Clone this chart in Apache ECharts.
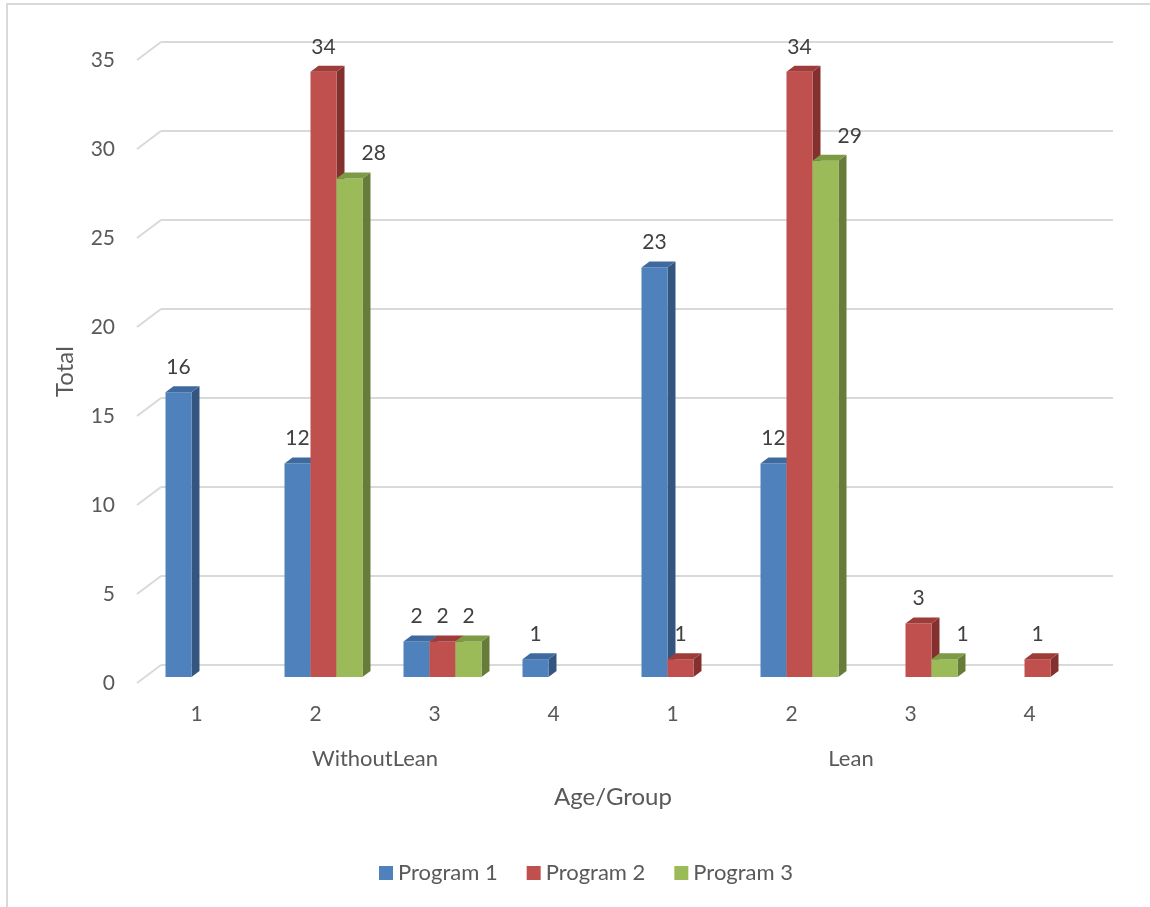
<!DOCTYPE html>
<html>
<head>
<meta charset="utf-8">
<title>Total by Age/Group</title>
<script src="https://cdn.jsdelivr.net/npm/echarts@6/dist/echarts.min.js"></script>
<style>
  html, body { margin: 0; padding: 0; background: #ffffff; }
  #chart { width: 1150px; height: 907px; }
</style>
</head>
<body>
<div id="chart"></div>
<script>
// ---- data ----
const categories = ['1', '2', '3', '4', '1', '2', '3', '4'];
const groups = ['WithoutLean', 'Lean'];
const seriesNames = ['Program 1', 'Program 2', 'Program 3'];
const program1 = [16, 12, 2, 1, 23, 12, 0, 0];
const program2 = [0, 34, 2, 0, 1, 34, 3, 1];
const program3 = [0, 28, 2, 0, 0, 29, 1, 0];
const yMin = 0, yMax = 35, yStep = 5;

// ---- look ----
const FONT = 'Lato, "Open Sans", sans-serif';
const TEXT = '#595959';
const LABEL = '#404040';
const GRID_LINE = '#d9d9d9';
const palette = [
  { front: '#4f81bd', side: '#34557f', top: '#3e6aa0' },
  { front: '#c0504d', side: '#84302e', top: '#9d3c39' },
  { front: '#9bbb59', side: '#677c39', top: '#7d9a44' }
];

// 3D layout: back wall, bar plane and front edge of the floor
const BACK = { left: 161, right: 37, top: 42, bottom: 242 };
const FLOOR_DX = 24, FLOOR_DY = 18;          // depth of the floor
const BAR_PLANE_DX = 16, BAR_PLANE_DY = 12;  // where bar fronts sit
const BAR_DX = 8, BAR_DY = 6;                // depth of each bar
const BAR_RATIO = 0.2185;                    // bar width / category band

const values = [program1, program2, program3];

function shift(g, dx, dy) {
  return { left: g.left - dx, right: g.right + dx, top: g.top + dy, bottom: g.bottom - dy };
}
const barGrid = shift(BACK, BAR_PLANE_DX, BAR_PLANE_DY);
const floorGrid = shift(BACK, FLOOR_DX, FLOOR_DY);

function barRenderer(slot) {
  const c = palette[slot];
  return function (params, api) {
    const idx = api.value(0), v = api.value(1);
    const base = api.coord([idx, 0]);
    const top = api.coord([idx, v]);
    const w = api.size([1, 0])[0] * BAR_RATIO;
    const x0 = base[0] - 1.5 * w + slot * w;
    const yb = base[1], yt = top[1];
    return {
      type: 'group',
      children: [
        { type: 'polygon', shape: { points: [[x0 + w, yt], [x0 + w + BAR_DX, yt - BAR_DY], [x0 + w + BAR_DX, yb - BAR_DY], [x0 + w, yb]] }, style: { fill: c.side } },
        { type: 'rect', shape: { x: x0, y: yt, width: w, height: yb - yt }, style: { fill: c.front } },
        { type: 'polygon', shape: { points: [[x0, yt], [x0 + BAR_DX, yt - BAR_DY], [x0 + w + BAR_DX, yt - BAR_DY], [x0 + w, yt]] }, style: { fill: c.top } }
      ]
    };
  };
}

// value labels; the last series' label steps aside when the bar to its left is taller
const labelData = [];
values.forEach((arr, s) => {
  arr.forEach((v, i) => {
    if (v > 0) {
      const prev = s > 0 ? values[s - 1][i] : 0;
      labelData.push([i, v, s, prev]);
    }
  });
});

function labelRenderer(params, api) {
  const idx = api.value(0), v = api.value(1), slot = api.value(2), prev = api.value(3);
  const base = api.coord([idx, 0]);
  const top = api.coord([idx, v]);
  const w = api.size([1, 0])[0] * BAR_RATIO;
  const x0 = base[0] - 1.5 * w + slot * w;
  const aside = slot === seriesNames.length - 1 && prev > v;
  return {
    type: 'text',
    style: {
      x: aside ? x0 + w - 1 : x0 + w / 2,
      y: top[1] - 25,
      text: String(v),
      align: aside ? 'left' : 'center',
      verticalAlign: 'middle',
      fill: LABEL,
      font: '21px ' + FONT
    }
  };
}

function wallRenderer(params, api) {
  const p = api.coord([0, api.value(1)]);
  return {
    type: 'line',
    shape: { x1: p[0] - FLOOR_DX, y1: p[1] + FLOOR_DY, x2: p[0], y2: p[1] },
    style: { stroke: GRID_LINE, lineWidth: 2 }
  };
}

const tickValues = [];
for (let t = yMin; t <= yMax; t += yStep) tickValues.push([0, t]);

const chart = echarts.init(document.getElementById('chart'), null, { renderer: 'canvas' });

chart.setOption({
  backgroundColor: '#ffffff',
  animation: false,
  textStyle: { fontFamily: FONT },
  graphic: [{
    type: 'rect',
    shape: { x: 7, y: 4, width: 1170, height: 930 },
    style: { fill: 'none', stroke: GRID_LINE, lineWidth: 2 },
    silent: true,
    z: -10
  }],
  legend: {
    data: seriesNames,
    left: 379,
    top: 862,
    padding: 0,
    icon: 'rect',
    itemWidth: 14,
    itemHeight: 14,
    itemGap: 29,
    textStyle: { color: TEXT, fontSize: 22, fontFamily: FONT }
  },
  grid: [
    Object.assign({}, BACK),
    Object.assign({}, barGrid),
    Object.assign({}, floorGrid)
  ],
  xAxis: [
    { gridIndex: 0, type: 'value', min: 0, max: 1, show: false },
    { gridIndex: 1, type: 'category', data: categories, show: false },
    {
      gridIndex: 2, type: 'category', data: categories, position: 'bottom',
      axisLine: { show: false }, axisTick: { show: false }, splitLine: { show: false },
      axisLabel: { color: TEXT, fontSize: 21, margin: 21, fontFamily: FONT },
      name: 'Age/Group', nameLocation: 'middle', nameGap: 102,
      nameTextStyle: { color: TEXT, fontSize: 24, fontFamily: FONT }
    },
    {
      gridIndex: 2, type: 'category', data: groups, position: 'bottom',
      axisLine: { show: false }, axisTick: { show: false }, splitLine: { show: false },
      axisLabel: { color: TEXT, fontSize: 22, margin: 65, fontFamily: FONT }
    }
  ],
  yAxis: [
    {
      gridIndex: 0, type: 'value', min: yMin, max: yMax, interval: yStep,
      axisLine: { show: false }, axisTick: { show: false }, axisLabel: { show: false },
      splitLine: { show: true, lineStyle: { color: GRID_LINE, width: 2 } }
    },
    { gridIndex: 1, type: 'value', min: yMin, max: yMax, interval: yStep, show: false },
    {
      gridIndex: 2, type: 'value', min: yMin, max: yMax, interval: yStep,
      axisLine: { show: false }, axisTick: { show: false }, splitLine: { show: false },
      axisLabel: { color: TEXT, fontSize: 21, margin: 22, fontFamily: FONT },
      name: 'Total', nameLocation: 'middle', nameRotate: 90, nameGap: 60,
      nameTextStyle: { color: TEXT, fontSize: 24, fontFamily: FONT }
    }
  ],
  series: [
    {
      type: 'custom', name: 'wall', xAxisIndex: 0, yAxisIndex: 0,
      renderItem: wallRenderer, data: tickValues, silent: true, z: 1
    }
  ].concat(values.map((arr, s) => ({
    type: 'custom',
    name: seriesNames[s],
    xAxisIndex: 1, yAxisIndex: 1,
    itemStyle: { color: palette[s].front },
    renderItem: barRenderer(s),
    data: arr.map((v, i) => [i, v]).filter(d => d[1] > 0),
    z: 2 + s
  }))).concat([{
    type: 'custom', name: 'labels', xAxisIndex: 1, yAxisIndex: 1,
    renderItem: labelRenderer, data: labelData, silent: true, z: 10
  }])
});
</script>
</body>
</html>
